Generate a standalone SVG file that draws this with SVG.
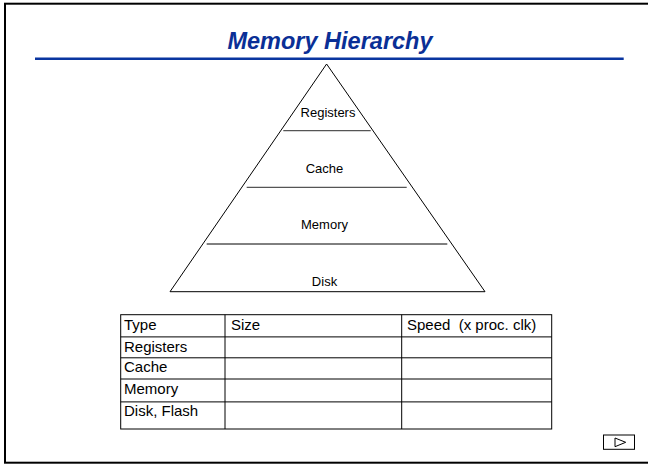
<svg xmlns="http://www.w3.org/2000/svg" width="648" height="465" viewBox="0 0 648 465">
<style>
.lbl{font-family:"Liberation Sans",Arial,sans-serif;font-size:13px;fill:#000;text-anchor:middle}
.cell{font-family:"Liberation Sans",Arial,sans-serif;font-size:15px;fill:#000}
.ln{stroke:#000;stroke-width:1;fill:none}
</style>
<rect x="5" y="3.7" width="700" height="459" fill="#fff" stroke="#000" stroke-width="2"/>
<g id="title">
<text x="330" y="49" font-family="'Liberation Sans',Arial,sans-serif" font-size="23.5" font-weight="bold" font-style="italic" fill="#0a2f96" text-anchor="middle">Memory Hierarchy</text>
<line x1="35" y1="58.7" x2="623.7" y2="58.7" stroke="#0a35a0" stroke-width="2.6"/>
</g>
<g id="pyramid">
<polygon class="ln" points="326.6,64 170,291.7 485,291.7"/>
<line x1="283.3" y1="130.7" x2="370.7" y2="130.7" stroke="#555" stroke-width="1.2"/>
<line x1="246.7" y1="187.3" x2="406.7" y2="187.3" stroke="#555" stroke-width="1.2"/>
<line x1="206.7" y1="244" x2="447.3" y2="244" stroke="#000" stroke-width="1"/>
<text class="lbl" x="328" y="116.7">Registers</text>
<text class="lbl" x="324.5" y="172.7">Cache</text>
<text class="lbl" x="324.5" y="229.3">Memory</text>
<text class="lbl" x="324.5" y="286">Disk</text>
</g>
<g id="table">
<rect class="ln" x="120.7" y="314.7" width="431" height="114.3"/>
<line class="ln" x1="225" y1="314.7" x2="225" y2="429"/>
<line class="ln" x1="401.7" y1="314.7" x2="401.7" y2="429"/>
<line class="ln" x1="120.7" y1="336.9" x2="551.7" y2="336.9"/>
<line class="ln" x1="120.7" y1="357.8" x2="551.7" y2="357.8"/>
<line class="ln" x1="120.7" y1="379" x2="551.7" y2="379"/>
<line class="ln" x1="120.7" y1="401.9" x2="551.7" y2="401.9"/>
<text class="cell" x="124" y="330">Type</text>
<text class="cell" x="231" y="330">Size</text>
<text class="cell" x="407" y="330" xml:space="preserve">Speed  (x proc. clk)</text>
<text class="cell" x="124" y="351.7">Registers</text>
<text class="cell" x="124" y="371.7">Cache</text>
<text class="cell" x="124" y="393.8">Memory</text>
<text class="cell" x="124" y="416">Disk, Flash</text>
</g>
<g id="nav">
<rect class="ln" x="603.5" y="435" width="31" height="14.3"/>
<polygon class="ln" points="615,438 625.7,442.3 615,446.7"/>
</g>
</svg>
